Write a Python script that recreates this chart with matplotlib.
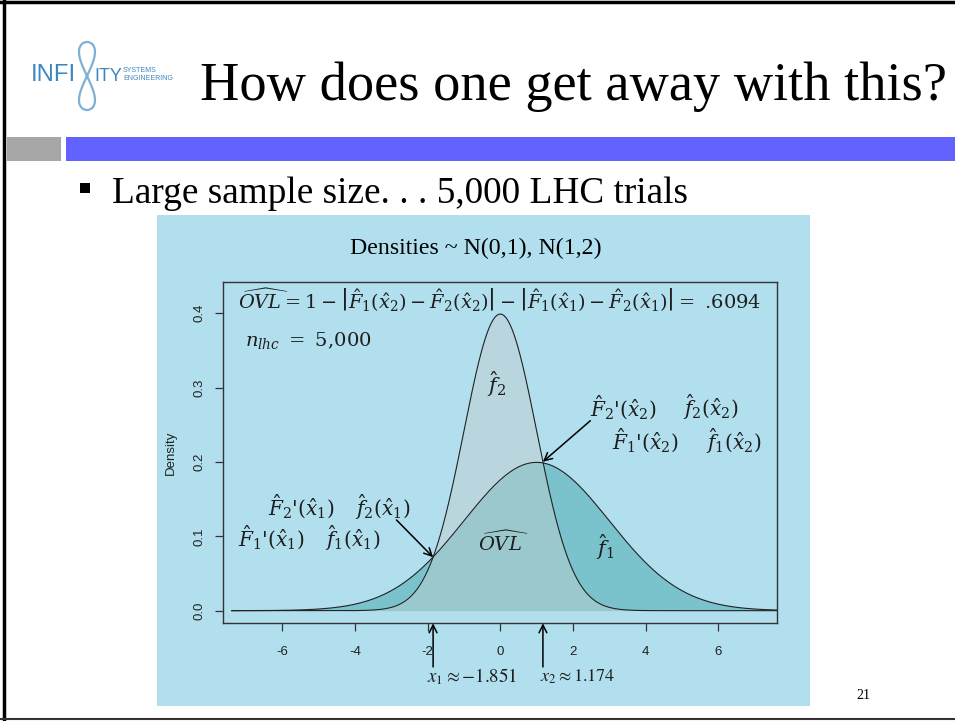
import numpy as np
import matplotlib
matplotlib.use("Agg")
import matplotlib.pyplot as plt
from matplotlib.patches import Rectangle
from matplotlib.lines import Line2D

# ---------------- data ----------------
means = [1.0, 0.0]          # f1 ~ N(1,2), f2 ~ N(0,1)
sds = [2.0, 1.0]
x_cross = [-1.851, 1.174]   # x1, x2
ovl_value = ".6094"
n_lhc = "5,000"
xticks = [-6, -4, -2, 0, 2, 4, 6]
yticks = [0.0, 0.1, 0.2, 0.3, 0.4]
ytick_labels = ["0.0", "0.1", "0.2", "0.3", "0.4"]

W, H = 955, 721
plt.rcParams["mathtext.fontset"] = "dejavuserif"
fig = plt.figure(figsize=(W / 100, H / 100), dpi=100)
fig.patch.set_facecolor("white")
renderer = fig.canvas.get_renderer()


def fx(px):
    return px / W


def fy(py):
    return 1 - py / H


def fit(t, target):
    bb = t.get_window_extent(renderer)
    t.set_fontsize(t.get_fontsize() * target / bb.width)


# slide borders
fig.add_artist(Line2D([0, 1], [fy(2), fy(2)], color="black", lw=2.5, transform=fig.transFigure))
fig.add_artist(Line2D([fx(4), fx(4)], [0, 1], color="black", lw=2.5, transform=fig.transFigure))
fig.add_artist(Line2D([0, 1], [fy(719), fy(719)], color="#333333", lw=1.5, transform=fig.transFigure))

# header bars
fig.add_artist(Rectangle((fx(7), fy(161)), fx(61) - fx(7), fy(137) - fy(161),
                         color="#a6a6a6", transform=fig.transFigure, lw=0))
fig.add_artist(Rectangle((fx(66), fy(161)), 1 - fx(66), fy(137) - fy(161),
                         color="#6262fe", transform=fig.transFigure, lw=0))

# logo
logo_c = "#3d87bf"
t = fig.text(fx(31), fy(81), "INFI", fontsize=16, color=logo_c, family="Liberation Sans",
             va="baseline", ha="left")
fit(t, 45)
t = fig.text(fx(94), fy(81), "ITY", fontsize=16, color=logo_c, family="Liberation Sans",
             va="baseline", ha="left")
fit(t, 28)
fig.text(fx(123), fy(72), "SYSTEMS", fontsize=5, color=logo_c, family="Liberation Sans",
         va="baseline", ha="left")
fig.text(fx(123), fy(80), "ENGINEERING", fontsize=5, color=logo_c, family="Liberation Sans",
         va="baseline", ha="left")
tt = np.linspace(0, 2 * np.pi, 200)
lx = 87 + 8 * np.sin(tt) * np.cos(tt) * 2
ly = 76 + 34 * np.sin(tt)
fig.add_artist(Line2D(fx(lx), fy(ly), color="#7fb0d4", lw=1.6, transform=fig.transFigure))

# title
t = fig.text(fx(200), fy(100), "How does one get away with this?", family="Liberation Serif",
             fontsize=40, va="baseline", ha="left", color="black")
fit(t, 745)

# bullet
fig.add_artist(Rectangle((fx(80), fy(193)), fx(90) - fx(80), fy(183) - fy(193),
                         color="black", transform=fig.transFigure, lw=0))
t = fig.text(fx(112), fy(203), "Large sample size. . . 5,000 LHC trials", family="Liberation Serif",
             fontsize=24, va="baseline", ha="left", color="black")
fit(t, 576)

# page number
fig.text(fx(863), fy(699), "21", family="Liberation Serif", fontsize=10, ha="center",
         va="baseline", color="black")

# chart panel
panel_c = "#b1dfee"
fig.add_artist(Rectangle((fx(157), fy(706)), fx(810) - fx(157), fy(215) - fy(706),
                         color=panel_c, transform=fig.transFigure, lw=0, zorder=-10))

t = fig.text(fx(476), fy(254), "Densities ~ N(0,1), N(1,2)", family="Liberation Serif",
             fontsize=16, ha="center", va="baseline", color="black")
fit(t, 252)

# axes
ax = fig.add_axes([fx(223.3), fy(623.3), fx(777.3) - fx(223.3), fy(282.3) - fy(623.3)])
ax.set_zorder(5)
ax.set_facecolor(panel_c)


def pdf(x, m, s):
    return np.exp(-0.5 * ((x - m) / s) ** 2) / (s * np.sqrt(2 * np.pi))


xg = np.linspace(-7.4, 7.63, 2000)
f1 = pdf(xg, means[0], sds[0])
f2 = pdf(xg, means[1], sds[1])
lo = np.minimum(f1, f2)
c_ovl = "#9ac8cc"
c_f2 = "#b9d6df"
c_f1 = "#7ac3cd"
ax.fill_between(xg, 0, lo, color=c_ovl, lw=0)
ax.fill_between(xg, f1, f2, where=f2 >= f1, color=c_f2, lw=0)
ax.fill_between(xg, f2, f1, where=f1 >= f2, color=c_f1, lw=0)
ax.plot(xg, f1, color="#222222", lw=0.8)
ax.plot(xg, f2, color="#222222", lw=0.8)

ax.set_xlim(-7.63, 7.63)
ax.set_ylim(-0.017, 0.4417)
ax.set_xticks(xticks)
ax.set_xticklabels([str(v) for v in xticks])
ax.set_yticks(yticks)
ax.set_yticklabels(ytick_labels)
for sp in ax.spines.values():
    sp.set_color("#333333")
    sp.set_linewidth(1.0)
ax.tick_params(axis="both", direction="out", length=5.5, width=0.9, color="#333333",
               labelsize=9.5, labelcolor="#222222")
ax.tick_params(axis="x", pad=11)
ax.tick_params(axis="y", pad=7)
for lab in ax.get_yticklabels():
    lab.set_rotation(90)
    lab.set_va("center")
    lab.set_family("Liberation Sans")
for lab in ax.get_xticklabels():
    lab.set_family("Liberation Sans")
ax.set_ylabel("Density", family="Liberation Sans", fontsize=9.5, color="#222222", labelpad=12)

# annotations (data coords)
mc = "#1e1e1e"
t = ax.text(-7.23, 0.418,
            r"$\widehat{OVL} = 1 - \left|\hat{F}_1(\hat{x}_2) - \hat{F}_2(\hat{x}_2)\right| - "
            r"\left|\hat{F}_1(\hat{x}_1) - \hat{F}_2(\hat{x}_1)\right| =$ " + ovl_value,
            fontsize=14, color=mc, ha="left", va="center", family="DejaVu Serif")
fit(t, 524)
ax.text(-7.04, 0.364, r"$n_{lhc}$ $=$ " + n_lhc, fontsize=14, family="DejaVu Serif",
        color=mc, ha="left", va="center")
ax.text(-0.1, 0.304, r"$\hat{f}_2$", fontsize=15, color=mc, ha="center", va="center")
ax.text(0.07, 0.0918, r"$\widehat{OVL}$", fontsize=14, color=mc, ha="center", va="center")
ax.text(2.88, 0.085, r"$\hat{f}_1$", fontsize=15, color=mc, ha="center", va="center")

lab_kw = dict(fontsize=14.5, color=mc, ha="left", va="center", family="DejaVu Serif")
ax.text(2.47, 0.273, r"$\hat{F}_2$'$(\hat{x}_2)$", **lab_kw)
ax.text(5.03, 0.273, r"$\hat{f}_2(\hat{x}_2)$", **lab_kw)
ax.text(3.07, 0.228, r"$\hat{F}_1$'$(\hat{x}_2)$", **lab_kw)
ax.text(5.66, 0.228, r"$\hat{f}_1(\hat{x}_2)$", **lab_kw)
ax.text(-6.40, 0.1397, r"$\hat{F}_2$'$(\hat{x}_1)$", **lab_kw)
ax.text(-4.01, 0.1397, r"$\hat{f}_2(\hat{x}_1)$", **lab_kw)
ax.text(-7.23, 0.0978, r"$\hat{F}_1$'$(\hat{x}_1)$", **lab_kw)
ax.text(-4.83, 0.0978, r"$\hat{f}_1(\hat{x}_1)$", **lab_kw)

x1, x2 = x_cross
apk = dict(arrowstyle="->", color="black", lw=1.1, shrinkA=0, shrinkB=0, mutation_scale=14)
ax.annotate("", xy=(x1, pdf(x1, means[1], sds[1])), xytext=(-2.86, 0.122), arrowprops=apk)
ax.annotate("", xy=(x2, pdf(x2, means[1], sds[1])), xytext=(2.48, 0.2555), arrowprops=apk)
ybot = ax.get_ylim()[0]
ax.annotate("", xy=(x1, ybot), xytext=(x1, -0.0757), arrowprops=apk, annotation_clip=False)
ax.annotate("", xy=(x2, ybot), xytext=(x2, -0.0757), arrowprops=apk, annotation_clip=False)
t = ax.text(-2.02, -0.0892, r"$x_1 \approx {-}1.851$", fontsize=12, color=mc, ha="left",
            va="center", clip_on=False, math_fontfamily="stix")
fit(t, 90)
t = ax.text(1.09, -0.0892, r"$x_2 \approx 1.174$", fontsize=12, color=mc, ha="left",
            va="center", clip_on=False, math_fontfamily="stix")
fit(t, 75)

fig.savefig("out.png", dpi=100, facecolor="white")
